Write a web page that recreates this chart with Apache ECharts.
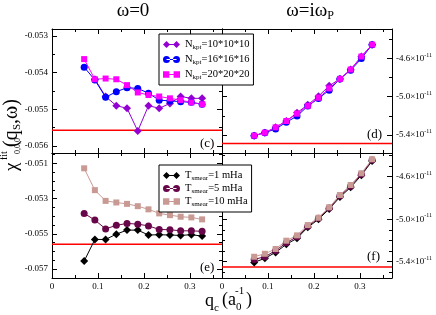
<!DOCTYPE html>
<html><head><meta charset="utf-8">
<script src="https://cdn.jsdelivr.net/npm/echarts@6/dist/echarts.min.js"></script>
<style>html,body{margin:0;padding:0;background:#fff}#c{width:436px;height:315px}</style>
</head><body><div id="c"></div>
<script>
// ---------- data ----------
const qValues = [0.07,0.0933,0.1167,0.14,0.1633,0.1867,0.21,0.2333,0.2567,0.28,0.3033,0.3267];
const kptLabels = ['10*10*10','16*16*16','20*20*20'];
const smearLabels = ['1 mHa','5 mHa','10 mHa'];
// panel (c): omega = 0, k-point sets
const cK10 = [null,-0.05418,-0.05465,-0.0549,-0.05497,-0.05559,-0.0549,-0.05497,-0.05484,-0.05465,-0.0547,-0.0547];
const cK16 = [-0.05385,-0.0542,-0.05467,-0.05452,-0.05441,-0.05443,-0.05456,-0.05475,-0.05477,-0.05479,-0.05481,-0.05486];
const cK20 = [-0.05363,-0.05418,-0.05416,-0.05418,-0.05434,-0.05454,-0.05461,-0.05465,-0.0547,-0.05475,-0.05481,-0.05486];
// panel (d): omega = i omega_P, k-point sets (units 1e-11)
const dK10 = [-5.408,-5.377,-5.321,-5.255,-5.168,-5.085,-4.994,-4.886,-4.813,-4.715,-4.579,-4.454];
const dK16 = [-5.408,-5.377,-5.338,-5.268,-5.203,-5.098,-5.018,-4.931,-4.813,-4.722,-4.600,-4.454];
const dK20 = [-5.408,-5.377,-5.321,-5.255,-5.178,-5.095,-5.011,-4.913,-4.813,-4.715,-4.579,-4.454];
// panel (e): omega = 0, smearing
const eT1  = [-0.05655,-0.05532,-0.05532,-0.05502,-0.05479,-0.05479,-0.05507,-0.05505,-0.05507,-0.05509,-0.05505,-0.05513];
const eT5  = [-0.05384,-0.05422,-0.05472,-0.05452,-0.05441,-0.05445,-0.05455,-0.05475,-0.05477,-0.05483,-0.05483,-0.05486];
const eT10 = [-0.05128,-0.05252,-0.05313,-0.05322,-0.0533,-0.05343,-0.05361,-0.05384,-0.05394,-0.05403,-0.05407,-0.05418];
// panel (f): omega = i omega_P, smearing (units 1e-11)
const fT1  = [-5.406,-5.368,-5.312,-5.236,-5.180,-5.076,-5.001,-4.904,-4.791,-4.700,-4.587,-4.452];
const fT5  = [-5.378,-5.353,-5.296,-5.221,-5.165,-5.065,-4.992,-4.895,-4.780,-4.690,-4.578,-4.444];
const fT10 = [-5.353,-5.325,-5.280,-5.202,-5.152,-5.055,-4.986,-4.888,-4.772,-4.678,-4.568,-4.436];
// reference (red) lines per panel c, d, e, f
const refLines = [-0.05557, -5.490, -0.05559, -5.450];
// axis ticks
const xMajor = [0,0.1,0.2,0.3], xMinor = [0.05,0.15,0.25,0.35];
const yMajor = [[-0.056,-0.055,-0.054,-0.053],[-5.4,-5.0,-4.6],[-0.057,-0.055,-0.053,-0.051],[-5.4,-5.0,-4.6]];
const yMinor = [[-0.0555,-0.0545,-0.0535],[-5.2,-4.8,-4.4],
  [-0.0565,-0.056,-0.0555,-0.0545,-0.054,-0.0535,-0.0525,-0.052,-0.0515,-0.0505],
  [-5.5,-5.3,-5.2,-5.1,-4.9,-4.8,-4.7,-4.5,-4.4]];

// ---------- layout ----------
const F = 'Liberation Serif';
const xMin = 0, xMax = 0.37;
const yRange = [[-0.05619,-0.05281],[-5.59,-4.29],[-0.05751,-0.05041],[-5.553,-4.377]];
const grids = [
  {left:52, top:29, width:170, height:124},
  {left:222, top:29, width:170, height:124},
  {left:52, top:153, width:170, height:125},
  {left:222, top:153, width:170, height:125}];

const xAxes = [], yAxes = [];
function ax(g, pos, min, max, vals, len, line, labelFmt, rich) {
  return {type:'value', gridIndex:g, position:pos, min:min, max:max, scale:true,
    axisLine:{show:line, onZero:false, lineStyle:{color:'#000', width:1}},
    axisTick:{show:true, inside:true, length:len, customValues:vals, lineStyle:{color:'#000', width:1}},
    axisLabel:{show:!!labelFmt, customValues:vals, margin:4, color:'#000', fontFamily:F, fontSize:9,
      formatter:labelFmt || null, rich:rich || undefined},
    splitLine:{show:false}};
}
const xFmt = v => v === 0 ? '0' : v.toFixed(1);
const lFmt = v => v.toFixed(3);
const rFmt = v => '{a|' + v.toFixed(1) + '×10}{s|-11}';
const rRich = {a:{fontFamily:F, fontSize:9, color:'#000'}, s:{fontFamily:F, fontSize:6, color:'#000', padding:[0,0,7,0]}};
for (let g = 0; g < 4; g++) {
  const bottomRow = g >= 2, rightCol = g % 2 === 1;
  xAxes.push(ax(g,'bottom',xMin,xMax,xMajor,5,true,bottomRow?xFmt:null));
  xAxes.push(ax(g,'bottom',xMin,xMax,xMinor,3,false,null));
  xAxes.push(ax(g,'top',xMin,xMax,xMajor,5,true,null));
  xAxes.push(ax(g,'top',xMin,xMax,xMinor,3,false,null));
  const [mn,mx] = yRange[g];
  yAxes.push(ax(g,'left',mn,mx,yMajor[g],5,true,rightCol?null:lFmt));
  yAxes.push(ax(g,'left',mn,mx,yMinor[g],3,false,null));
  yAxes.push(ax(g,'right',mn,mx,yMajor[g],5,true,rightCol?rFmt:null,rightCol?rRich:null));
  yAxes.push(ax(g,'right',mn,mx,yMinor[g],3,false,null));
}

const colK = ['#9400d3','#0000ff','#ff00ff'];
const colT = ['#000000','#67074a','#c99a94'];
const symK = ['diamond','circle','rect'];
const sizeK = [8,7,6];
function ser(name, g, vals, color, sym, size) {
  return {type:'line', name:name, xAxisIndex:4*g, yAxisIndex:4*g,
    data: qValues.map((q,i)=>[q, vals[i]]).filter(p => p[1] !== null),
    symbol:sym, symbolSize:size, showAllSymbol:true,
    lineStyle:{color:color, width:1}, itemStyle:{color:color}, z:3};
}
const kNames = kptLabels.map(s => 'Nkpt=' + s);
const tNames = smearLabels.map(s => 'Tsmear=' + s);
const series = [];
[cK10,cK16,cK20].forEach((a,i)=>series.push(ser(kNames[i],0,a,colK[i],symK[i],sizeK[i])));
[dK10,dK16,dK20].forEach((a,i)=>series.push(ser(kNames[i],1,a,colK[i],symK[i],sizeK[i])));
[eT1,eT5,eT10].forEach((a,i)=>series.push(ser(tNames[i],2,a,colT[i],symK[i],sizeK[i])));
[fT1,fT5,fT10].forEach((a,i)=>series.push(ser(tNames[i],3,a,colT[i],symK[i],sizeK[i])));
refLines.forEach((v,g)=>series.push({type:'line', name:'ref'+g, xAxisIndex:4*g, yAxisIndex:4*g,
  data:[[xMin,v],[xMax,v]], symbol:'none', lineStyle:{color:'#ff0000', width:1.5}, z:2, silent:true}));

const icons = [
  'path://M0,3.5L3.5,0L7,3.5L3.5,7ZM10,3.5L13.5,0L17,3.5L13.5,7ZM3.5,3H13.5V4H3.5Z',
  'path://M0,3.5A3.5,3.5,0,1,0,7,3.5A3.5,3.5,0,1,0,0,3.5ZM10,3.5A3.5,3.5,0,1,0,17,3.5A3.5,3.5,0,1,0,10,3.5ZM3.5,3H13.5V4H3.5Z',
  'path://M0.5,0.5H6.5V6.5H0.5ZM10.5,0.5H16.5V6.5H10.5ZM3.5,3H13.5V4H3.5Z'];
const legRich = {m:{fontFamily:F, fontSize:10.5, color:'#000', lineHeight:12},
                 s:{fontFamily:F, fontSize:7, color:'#000', lineHeight:8, padding:[6,0,0,0]}};
function legend(names, top, gap, sub) {
  return {show:true, orient:'vertical', left:159, top:top, itemGap:gap, itemWidth:17, itemHeight:7,
    padding:[4,4,4,4], borderColor:'#000', borderWidth:1, borderRadius:0, backgroundColor:'#fff',
    selectedMode:false,
    data:names.map((n,i)=>({name:n, icon:icons[i]})),
    formatter: n => { const k = n.indexOf('='); return '{m|' + n.slice(0,1) + '}{s|' + sub + '}{m|' + n.slice(k) + '}'; },
    textStyle:{rich:legRich}};
}

const T = (x,y,text,size,extra) => Object.assign({type:'text', x:x, y:y, silent:true, z:10,
  style:Object.assign({text:text, fontFamily:F, fontSize:size, fill:'#000', align:'left', verticalAlign:'middle'}, extra||{})});
const R = (x,y,text,size) => ({type:'text', x:x, y:y, style:{text:text, fontFamily:F, fontSize:size, fill:'#000', verticalAlign:'middle'}});

const graphic = [
  T(133,11,'ω=0',19,{align:'center'}),
  T(310,11,'{m|ω=iω}{s|P}',19,{align:'center', rich:{m:{fontFamily:F,fontSize:19,lineHeight:20}, s:{fontFamily:F,fontSize:12,padding:[10,0,0,0],lineHeight:12}}}),
  T(200,144,'(c)',13), T(367,135,'(d)',13), T(200,268,'(e)',13), T(367,257,'(f)',13),
  // x axis title
  T(205,301,'q',18), T(214,308,'c',11), T(222,300,'(a',18), T(236,307,'0',11), T(235,291,'-1',11), T(246,300,')',18),
  // y axis title (rotated group, reads bottom to top)
  {type:'group', x:12, y:171, rotation:Math.PI/2, silent:true, z:10, children:[
    R(0,0,'χ',19),
    R(17,6,'0,0,0',8),
    R(11,-8,'fit',10),
    R(24,0,'(q',20),
    R(41,5,'S',11),
    R(47,0,',ω)',20)
  ]}
];

const chart = echarts.init(document.getElementById('c'), null, {renderer:'canvas'});
chart.setOption({
  animation:false, backgroundColor:'#fff',
  grid:grids, xAxis:xAxes, yAxis:yAxes, series:series,
  legend:[legend(kNames,34,2,'kpt'), legend(tNames,165,0,'smear')],
  graphic:graphic
});
</script></body></html>
